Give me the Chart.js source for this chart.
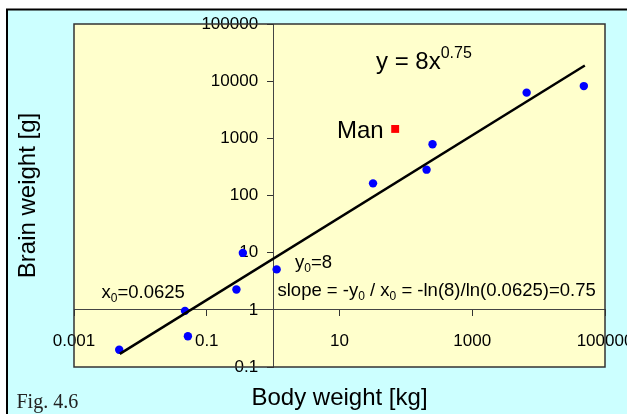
<!DOCTYPE html>
<html><head><meta charset="utf-8">
<script src="https://cdn.jsdelivr.net/npm/chart.js@4/dist/chart.umd.min.js"></script>
<style>html,body{margin:0;padding:0;background:#fff;overflow:hidden}canvas{display:block}</style>
</head><body>
<canvas id="c" width="627" height="414"></canvas>
<script>
// ---- data ----
const xTickValues = [0.001, 0.1, 10, 1000, 100000];
const xTickLabels = ['0.001', '0.1', '10', '1000', '100000'];
const yTickValues = [0.1, 1, 10, 100, 1000, 10000, 100000];
const yTickLabels = ['0.1', '1', '10', '100', '1000', '10000', '100000'];
const bodyWeight  = [0.0048, 0.047, 0.052, 0.28, 0.35, 1.13, 32, 205, 252, 6600, 48000];
const brainWeight = [0.2, 0.96, 0.345, 2.27, 9.9, 5.1, 163, 283, 790, 6300, 8200];
const manBody  = [69];
const manBrain = [1460];
const fitBody  = [0.0049, 49650];
const fitBrain = [0.17, 18800];

const FONT = '"Liberation Sans", Arial, sans-serif';

function pts(xs, ys) { return xs.map((x, i) => ({x: x, y: ys[i]})); }

function drawRich(ctx, x, y, parts, size) {
  let cx = x;
  parts.forEach(([t, k]) => {
    let fs = size, dy = 0;
    if (k === 'sub') { fs = Math.round(size * 0.65); dy = size * 0.22; }
    if (k === 'sup') { fs = Math.round(size * 0.66); dy = -size * 0.45; }
    ctx.font = fs + 'px ' + FONT;
    ctx.fillText(t, cx, y + dy);
    cx += ctx.measureText(t).width;
  });
}

const decor = {
  id: 'decor',
  beforeDraw(chart) {
    const ctx = chart.ctx, a = chart.chartArea;
    // y-axis sits at x = 1: move its labels left of the tick marks
    const ys = chart.scales.y;
    const items = ys.getLabelItems();
    if (!items._shifted) {
      items.forEach(it => { it.options.translation[0] -= 15; });
      items._shifted = true;
    }
    ctx.save();
    ctx.fillStyle = '#ffffff';
    ctx.fillRect(0, 0, chart.width, chart.height);
    ctx.fillStyle = '#ccffff';
    ctx.fillRect(7, 10, chart.width - 7, chart.height - 10);
    ctx.strokeStyle = '#000';
    ctx.lineWidth = 2;
    ctx.beginPath();
    ctx.moveTo(6, 9.5); ctx.lineTo(chart.width, 9.5);
    ctx.moveTo(7, 9); ctx.lineTo(7, chart.height);
    ctx.stroke();
    ctx.fillStyle = '#ffffcc';
    ctx.fillRect(a.left, a.top, a.right - a.left, a.bottom - a.top);
    ctx.restore();
  },
  afterDraw(chart) {
    const ctx = chart.ctx, a = chart.chartArea;
    ctx.save();
    ctx.strokeStyle = '#333';
    ctx.lineWidth = 1.5;
    ctx.strokeRect(a.left, a.top, a.right - a.left, a.bottom - a.top);
    ctx.fillStyle = '#000';
    ctx.textBaseline = 'alphabetic';
    ctx.textAlign = 'left';
    drawRich(ctx, 376, 69, [['y = 8x', ''], ['0.75', 'sup']], 24);
    ctx.font = '24px ' + FONT;
    ctx.fillText('Man', 337, 138);
    drawRich(ctx, 295, 268, [['y', ''], ['0', 'sub'], ['=8', '']], 18.5);
    drawRich(ctx, 277.5, 296, [['slope = -y', ''], ['0', 'sub'], [' / x', ''], ['0', 'sub'], [' = -ln(8)/ln(0.0625)=0.75', '']], 18.5);
    drawRich(ctx, 101.5, 297.5, [['x', ''], ['0', 'sub'], ['=0.0625', '']], 18.5);
    ctx.font = '24px ' + FONT;
    ctx.textAlign = 'center';
    ctx.fillText('Body weight [kg]', (a.left + a.right) / 2, 405);
    ctx.save();
    ctx.translate(35, (a.top + a.bottom) / 2);
    ctx.rotate(-Math.PI / 2);
    ctx.fillText('Brain weight [g]', 0, 0);
    ctx.restore();
    ctx.textAlign = 'left';
    ctx.fillStyle = '#222';
    ctx.font = '20px "Liberation Serif", "Times New Roman", serif';
    ctx.fillText('Fig. 4.6', 16.5, 408);
    ctx.restore();
  }
};

new Chart(document.getElementById('c'), {
  type: 'scatter',
  data: {
    datasets: [
      { label: 'fit', data: pts(fitBody, fitBrain), showLine: true, borderColor: '#000', borderWidth: 2.5,
        pointRadius: 0, fill: false },
      { label: 'Man', data: pts(manBody, manBrain), pointStyle: 'rect', pointRadius: 5.6,
        backgroundColor: '#ff0000', borderColor: '#ff0000', borderWidth: 0 },
      { label: 'animals', data: pts(bodyWeight, brainWeight), pointRadius: 4.2,
        backgroundColor: '#0000ff', borderColor: '#0000ff', borderWidth: 0 }
    ]
  },
  options: {
    responsive: false,
    animation: false,
    layout: { padding: { left: 74, right: 22, top: 24, bottom: 47 } },
    plugins: { legend: { display: false }, tooltip: { enabled: false } },
    scales: {
      x: {
        type: 'logarithmic', position: { y: 1 }, min: 0.001, max: 100000,
        afterBuildTicks: s => { s.ticks = xTickValues.map(v => ({ value: v })); },
        afterFit: s => { s.paddingLeft = 0; s.paddingRight = 0; },
        grid: { drawOnChartArea: false, drawTicks: true, tickLength: 6, tickColor: '#333', tickWidth: 1 },
        border: { display: true, color: '#444', width: 1 },
        ticks: { autoSkip: false, maxRotation: 0, minRotation: 0, padding: 15, color: '#000',
          font: { family: FONT, size: 17 }, callback: (v, i) => xTickLabels[i] }
      },
      y: {
        type: 'logarithmic', position: { x: 1 }, min: 0.1, max: 100000,
        afterBuildTicks: s => { s.ticks = yTickValues.map(v => ({ value: v })); },
        afterFit: s => { s.paddingTop = 0; s.paddingBottom = 0; },
        grid: { drawOnChartArea: false, drawTicks: true, tickLength: 6, tickColor: '#333', tickWidth: 1 },
        border: { display: true, color: '#444', width: 1 },
        ticks: { autoSkip: false, padding: 9, color: '#000',
          font: { family: FONT, size: 17 }, callback: (v, i) => yTickLabels[i] }
      }
    }
  },
  plugins: [decor]
});
</script>
</body></html>
